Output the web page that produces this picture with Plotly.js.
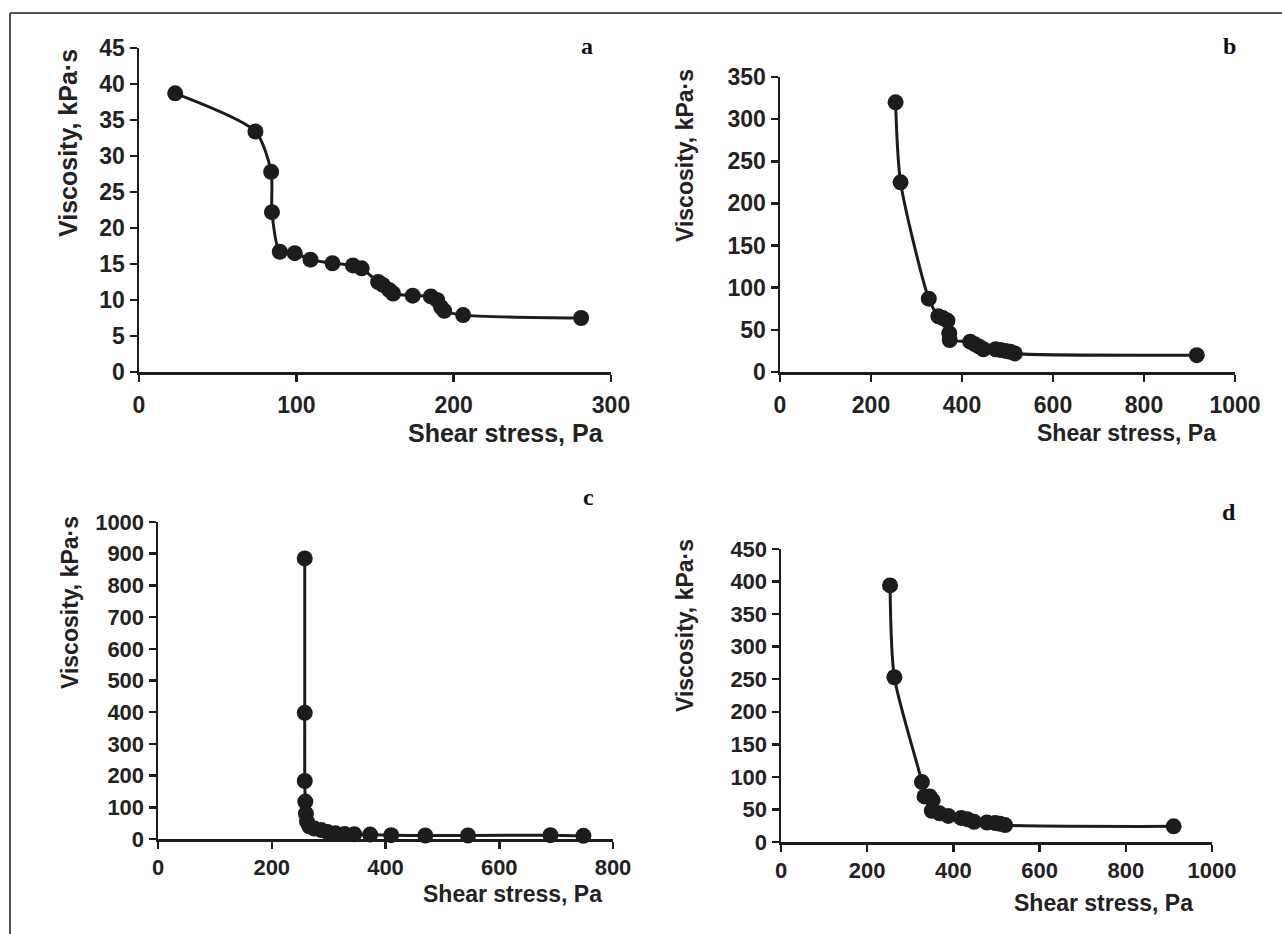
<!DOCTYPE html>
<html>
<head>
<meta charset="utf-8">
<script src="https://cdn.plot.ly/plotly-3.0.1.min.js"></script>
<style>html,body{margin:0;padding:0;background:#fff;}#chart{width:1282px;height:934px;}</style>
</head>
<body>
<div id="chart"></div>
<script>
// Panel a
const stressA = [23, 74, 84, 84.5, 89.5, 99, 109, 123, 136, 141.5, 152, 155, 159, 161.5, 174, 185.5, 189.5, 192, 194, 206, 281];
const viscA   = [38.7, 33.4, 27.8, 22.2, 16.7, 16.5, 15.6, 15.1, 14.8, 14.4, 12.5, 12.1, 11.4, 10.9, 10.6, 10.5, 10.0, 9.0, 8.5, 7.9, 7.5];
// Panel b
const stressB = [254, 265, 327, 348, 358, 368, 372, 373, 418, 428, 438, 447, 474, 485, 496, 506, 516, 916];
const viscB   = [320, 225, 87, 66, 64, 61, 46, 38, 36, 33, 30, 27, 27, 26, 25, 24, 22, 20];
// Panel c
const stressC = [258, 258, 258, 259, 260, 262, 266, 275, 287, 298, 312, 328, 345, 373, 410, 470, 545, 690, 748];
const viscC   = [885, 398, 183, 118, 80, 55, 40, 33, 28, 22, 18, 16, 15, 14, 12, 11, 11, 12, 10];
// Panel d
const stressD = [253, 263, 327, 333, 345, 352, 350, 368, 388, 418, 432, 448, 478, 497, 508, 520, 911];
const viscD   = [394, 253, 92, 70, 70, 64, 48, 44, 40, 37, 35, 31, 30, 29, 28, 26, 24];

const xTitle = "Shear stress, Pa";
const yTitle = "Viscosity, kPa·s";
const panelLetters = ["a", "b", "c", "d"];

const W = 1282, H = 934;
const px = x => x / W;
const py = y => 1 - y / H;

const ink = "#1c1c1c";
const sans = "Liberation Sans, Arial, sans-serif";
const tickFontBig = {family: sans, size: 23, color: "#222", weight: "bold"};
const tickFont = {family: sans, size: 22, color: "#222", weight: "bold"};
const titleFontA = {family: sans, size: 25, color: "#222", weight: "bold"};
const titleFont = {family: sans, size: 23, color: "#222", weight: "bold"};
const letterFont = {family: "Liberation Serif, Times New Roman, serif", size: 24, color: "#111", weight: "bold"};

function trace(x, y, xa, ya) {
  return {
    x: x, y: y, xaxis: xa, yaxis: ya, type: "scatter", mode: "lines+markers",
    line: {color: ink, width: 3, shape: "spline", smoothing: 0.7},
    marker: {color: ink, size: 16},
    cliponaxis: false, hoverinfo: "x+y", showlegend: false
  };
}

function axis(domain, range, dtick, anchor, font, standoff) {
  return {
    domain: domain, range: range, dtick: dtick, tick0: 0, anchor: anchor,
    showline: true, linecolor: ink, linewidth: 2.5, mirror: false,
    ticks: "outside", ticklen: 7, tickwidth: 2.5, tickcolor: ink,
    ticklabelstandoff: standoff || 0,
    showgrid: false, zeroline: false, tickfont: font, fixedrange: true
  };
}

const data = [
  trace(stressA, viscA, "x", "y"),
  trace(stressB, viscB, "x2", "y2"),
  trace(stressC, viscC, "x3", "y3"),
  trace(stressD, viscD, "x4", "y4")
];

function ann(text, x, y, font, angle) {
  return {text: text, x: px(x), y: py(y), xref: "paper", yref: "paper",
          showarrow: false, font: font, textangle: angle || 0,
          xanchor: "center", yanchor: "middle"};
}

const layout = {
  width: W, height: H,
  margin: {l: 0, r: 0, t: 0, b: 0},
  paper_bgcolor: "#fff", plot_bgcolor: "rgba(0,0,0,0)",
  xaxis:  axis([px(139), px(611)], [0, 300], 100, "y", tickFontBig, 4),
  yaxis:  axis([py(372), py(48)], [0, 45], 5, "x", tickFontBig, 0),
  xaxis2: axis([px(780), px(1235)], [0, 1000], 200, "y2", tickFontBig, 4),
  yaxis2: axis([py(372), py(77)], [0, 350], 50, "x2", tickFontBig, 0),
  xaxis3: axis([px(158), px(613)], [0, 800], 200, "y3", tickFont, 0),
  yaxis3: axis([py(839), py(522)], [0, 1000], 100, "x3", tickFont, 0),
  xaxis4: axis([px(781), px(1212)], [0, 1000], 200, "y4", tickFont, 0),
  yaxis4: axis([py(842), py(549)], [0, 450], 50, "x4", tickFont, 0),
  annotations: [
    ann(yTitle, 68, 143, titleFontA, -90),
    ann(xTitle, 506, 433, titleFontA),
    ann(panelLetters[0], 587, 46, letterFont),
    ann(yTitle, 685, 156, titleFont, -90),
    ann(xTitle, 1126, 433, titleFont),
    ann(panelLetters[1], 1229, 46, letterFont),
    ann(yTitle, 70, 603, titleFont, -90),
    ann(xTitle, 512, 894, titleFont),
    ann(panelLetters[2], 588, 497, letterFont),
    ann(yTitle, 685, 626, titleFont, -90),
    ann(xTitle, 1103, 903, titleFont),
    ann(panelLetters[3], 1229, 512, letterFont)
  ],
  shapes: [
    {type: "line", xref: "paper", yref: "paper", x0: px(10), x1: 1, y0: py(13), y1: py(13), line: {color: "#555", width: 2}},
    {type: "line", xref: "paper", yref: "paper", x0: px(10), x1: px(10), y0: py(13), y1: 0, line: {color: "#555", width: 2}}
  ]
};

Plotly.newPlot("chart", data, layout, {displayModeBar: false, staticPlot: true});
</script>
</body>
</html>
